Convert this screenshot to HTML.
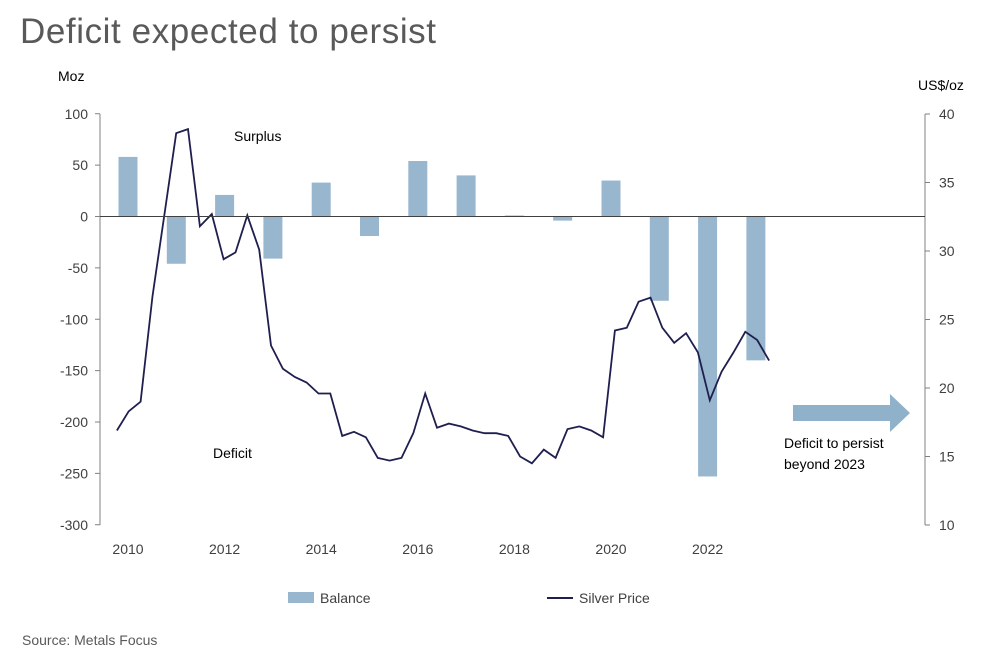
<!DOCTYPE html>
<html><head><meta charset="utf-8"><style>
body{margin:0;background:#fff;font-family:"Liberation Sans",sans-serif;}
</style></head><body>
<svg width="1005" height="656" xmlns="http://www.w3.org/2000/svg" font-family="Liberation Sans, sans-serif">
<text x="20" y="43" font-size="35" textLength="416" fill="#595959">Deficit expected to persist</text>
<text x="58" y="81" font-size="14" fill="#000">Moz</text>
<text x="918" y="90" font-size="14" fill="#000">US$/oz</text>
<g id="axes"></g>
<g id="bars"></g>
<g id="line"></g>
<text x="234" y="141" font-size="14">Surplus</text>
<text x="213" y="458" font-size="14">Deficit</text>
<polygon points="793,405 890,405 890,394 910,413 890,432 890,421 793,421" fill="#8fb1c9"/>
<text x="784" y="448" font-size="14">Deficit to persist</text>
<text x="784" y="469" font-size="14">beyond 2023</text>
<rect x="288" y="592" width="26" height="11" fill="#98b7cf"/>
<text x="320" y="603" font-size="14" fill="#404040">Balance</text>
<line x1="547" y1="598" x2="573" y2="598" stroke="#1f1f4f" stroke-width="2"/>
<text x="579" y="603" font-size="14" fill="#404040">Silver Price</text>
<text x="22" y="645" font-size="14" fill="#595959">Source: Metals Focus</text>
</svg>
<script>
const years=[2010,2011,2012,2013,2014,2015,2016,2017,2018,2019,2020,2021,2022,2023];
const balance=[58,-46,21,-41,33,-19,54,40,1,-4,35,-82,-253,-140];
const priceStart=2009.77, priceStep=0.2455;
const price=[16.9,18.3,19.0,26.7,32.6,38.6,38.9,31.8,32.7,29.4,29.9,32.6,30.1,23.1,21.4,20.8,20.4,19.6,19.6,16.5,16.8,16.4,14.9,14.7,14.9,16.7,19.6,17.1,17.4,17.2,16.9,16.7,16.7,16.5,15.0,14.5,15.5,14.9,17.0,17.2,16.9,16.4,24.2,24.4,26.3,26.6,24.4,23.3,24.0,22.6,19.1,21.2,22.6,24.1,23.5,22.0];
const leftTicks=[100,50,0,-50,-100,-150,-200,-250,-300];
const rightTicks=[40,35,30,25,20,15,10];
const xTicks=[2010,2012,2014,2016,2018,2020,2022];
const NS="http://www.w3.org/2000/svg";
const X=t=>128+(t-2010)*48.3;
const YL=v=>216.5-(v)*1.0275;
const YR=v=>114+(40-v)*13.7;
function mk(tag,attrs,parent,txt){const e=document.createElementNS(NS,tag);for(const k in attrs)e.setAttribute(k,attrs[k]);if(txt!==undefined)e.textContent=txt;parent.appendChild(e);return e;}
const ax=document.getElementById('axes');
let e=mk('line',{x1:100,y1:114,x2:100,y2:525,stroke:'#808080'},ax);


e=mk('line',{x1:925,y1:114,x2:925,y2:525,stroke:'#808080'},ax);


leftTicks.forEach(v=>{mk('line',{x1:95,y1:YL(v),x2:100,y2:YL(v),stroke:'#808080'},ax);
 e=mk('text',{x:88,y:YL(v)+5,'text-anchor':'end','font-size':14,fill:'#404040'},ax,v);
 
 });
rightTicks.forEach(v=>{mk('line',{x1:925,y1:YR(v),x2:930,y2:YR(v),stroke:'#808080'},ax);
 e=mk('text',{x:939,y:YR(v)+5,'font-size':14,fill:'#404040'},ax,v);
 
 });
xTicks.forEach(v=>{e=mk('text',{x:X(v),y:554,'text-anchor':'middle','font-size':14,fill:'#404040'},ax,v);
 
 });
const bg=document.getElementById('bars');
years.forEach((y,i)=>{const v=balance[i];const y0=YL(0),y1=YL(v);
 e=mk('rect',{x:X(y)-9.5,y:Math.min(y0,y1),width:19,height:Math.max(1,Math.abs(y1-y0)),fill:'#98b7cf'},bg);
 
 });
e=mk('line',{x1:100,y1:YL(0),x2:925,y2:YL(0),stroke:'#404040'},ax.parentNode);


const pts=price.map((p,i)=>X(priceStart+i*priceStep).toFixed(1)+','+YR(p).toFixed(1)).join(' ');
e=mk('polyline',{points:pts,fill:'none',stroke:'#1f1f4f','stroke-width':1.8},document.getElementById('line'));


</script>
</body></html>
